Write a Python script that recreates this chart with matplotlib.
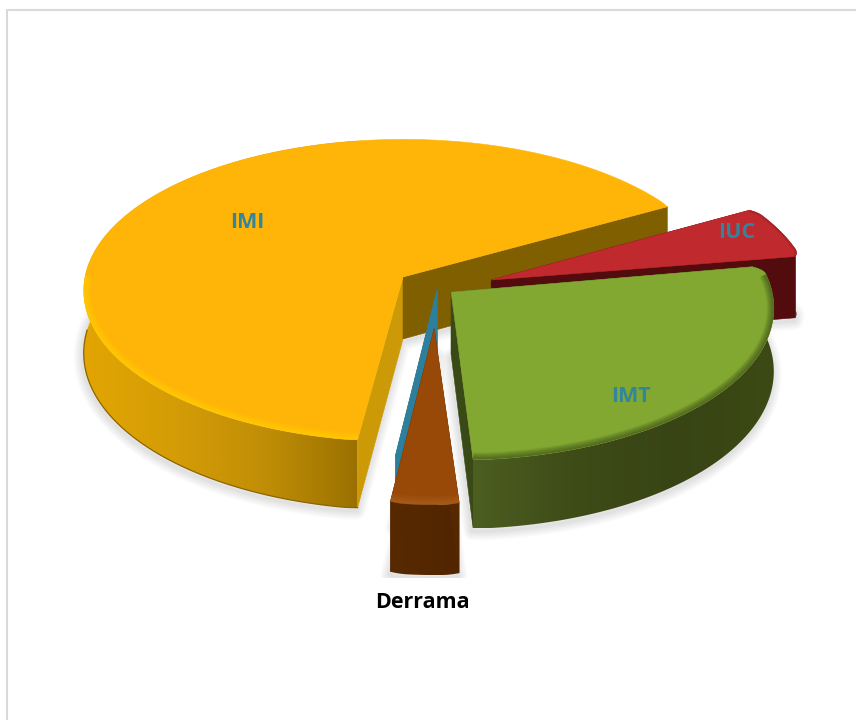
import numpy as np
import matplotlib
matplotlib.use("Agg")
import matplotlib.pyplot as plt
from matplotlib.colors import LinearSegmentedColormap
from matplotlib.patches import Polygon, Rectangle

names = ["IMI", "IUC", "IMT", "", "Derrama"]
values = [64.75, 5.6, 27.0, 1.9, 3.06]
start_angles = [262.5, 29.4, 10.0, -90.5, -86.5]
explode_x = [0.0, 0.277, 0.15, 0.106, 0.095]
explode_y = [0.0, -0.02, -0.10, -0.086, -0.335]
round_start = [0.004, 0.015, 0.03, 0.0, 0.008]
round_end = [0.004, 0.015, 0.004, 0.0, 0.008]
top_colors = ["#FFB508", "#C0292E", "#82A832", "#2E7F9B", "#984807"]
cut_start_colors = ["#CC9A06", "#520C0E", "#3A4A16", "#2E7F9B", "#562800"]
cut_end_colors = ["#7F5F00", "#520C0E", "#3A4A16", "#2E7F9B", "#562800"]
side_colors = [["#E2A502", "#D49C06", "#C08E06", "#9A7000"],
               ["#520C0E", "#520C0E"],
               ["#4C5E20", "#3E4C18", "#384414", "#3C4A15"],
               ["#2A7A96", "#2A7A96"],
               ["#582A02", "#512500"]]
label_x = [247, 737, 631]
label_y = [223, 232, 396]
label_color = "#31859C"

cx, cy = 403, 277
rx, ry = 318, 150
persp = 0.09
height = 62


def project(x, y, z=0.0):
    s = 1 / (1 + persp * y)
    return cx + rx * x * s, cy - ry * y * s + height * z * s


def arc_points(i, z=0.0):
    th = np.linspace(start_angles[i], start_angles[i] - values[i] * 3.6, 240)
    r = (1 - round_start[i] * np.clip(1 - (th[0] - th) / 3.0, 0, 1) ** 2
         - round_end[i] * np.clip(1 - (th - th[-1]) / 3.0, 0, 1) ** 2)
    x = r * np.cos(np.radians(th)) + explode_x[i]
    y = r * np.sin(np.radians(th)) + explode_y[i]
    return np.column_stack(project(x, y, z))


def gradient_face(ax, pts, colors, x0, x1, zorder):
    cmap = LinearSegmentedColormap.from_list("face", colors)
    y0, y1 = pts[:, 1].min(), pts[:, 1].max()
    im = ax.imshow(np.linspace(0, 1, 256)[None, :], cmap=cmap, aspect="auto",
                   extent=(x0, x1, y1, y0), zorder=zorder, interpolation="bilinear")
    clip = Polygon(pts, closed=True, transform=ax.transData, fc="none", ec="none")
    ax.add_patch(clip)
    im.set_clip_path(clip)


def rim_glow(ax, pts, clip, color, widths, alpha, zorder):
    for w in widths:
        line, = ax.plot(pts[:, 0], pts[:, 1], color=color, lw=w, alpha=alpha,
                        zorder=zorder, solid_capstyle="butt")
        line.set_clip_path(clip)


fig = plt.figure(figsize=(8.56, 7.2), dpi=100)
ax = fig.add_axes([0, 0, 1, 1])

# frame is cropped, only top and left are in the picture
ax.plot([7, 7, 856], [720, 10, 10], color="#D9D9D9", lw=1.5, zorder=1)

# soft shadow under each slice
shadow_clip = Rectangle((0, 0), 856, 578, transform=ax.transData, fc="none", ec="none")
ax.add_patch(shadow_clip)
for i in range(len(values)):
    base = arc_points(i, 1.0)
    apex = np.array(project(explode_x[i], explode_y[i], 1.0))
    outline = np.vstack([apex, base]) + [-1, 3]
    for w in [18, 15, 12, 9, 6, 3]:
        p = Polygon(outline, closed=True, fc="none", ec=(0, 0, 0, 0.018), lw=w * 0.72,
                    joinstyle="round", zorder=2)
        ax.add_patch(p)
        p.set_clip_path(shadow_clip)

z = 3
for i in range(len(values)):
    top = arc_points(i)
    bottom = arc_points(i, 1.0)
    apex_top = np.array(project(explode_x[i], explode_y[i]))
    apex_bot = np.array(project(explode_x[i], explode_y[i], 1.0))

    # shade only across the part of the rim that faces the viewer
    front = top[top[:, 1] > apex_top[1] + 5]
    if len(front) == 0:
        front = top
    gradient_face(ax, np.vstack([top, bottom[::-1]]), side_colors[i],
                  front[:, 0].min(), front[:, 0].max(), z)
    z += 1
    ax.add_patch(Polygon([apex_top, top[0], bottom[0], apex_bot], closed=True,
                         fc=cut_start_colors[i], ec=cut_start_colors[i], lw=0.4, zorder=z))
    z += 1
    ax.add_patch(Polygon([apex_top, top[-1], bottom[-1], apex_bot], closed=True,
                         fc=cut_end_colors[i], ec=cut_end_colors[i], lw=0.4, zorder=z))
    z += 1
    face = Polygon(np.vstack([apex_top, top]), closed=True, fc=top_colors[i],
                   ec=top_colors[i], lw=0.4, zorder=z)
    ax.add_patch(face)
    z += 1

    if names[i] == "IMI":
        rim_glow(ax, top[top[:, 1] > 275], face, "#FFD400", [10, 8, 6, 4, 2], 0.16, z)
        low = bottom[bottom[:, 1] > 330]
        ax.plot(low[:, 0], low[:, 1], color="#8A6400", lw=0.9, zorder=z)
    elif names[i] == "IMT":
        rim_glow(ax, top[8:], face, "#3A4A16", [10, 9, 8, 7, 6, 5, 4, 3, 2, 1], 0.09, z)
    elif names[i] == "IUC":
        rim_glow(ax, top, face, "#520C0E", [3, 1.5], 0.12, z)
    elif names[i] == "Derrama":
        rim_glow(ax, top, face, "#B8722F", [12, 9, 6, 3], 0.14, z)
    z += 1

for i in range(3):
    ax.text(label_x[i], label_y[i], names[i], color=label_color, fontsize=15.5,
            fontweight="bold", family="Open Sans", ha="center", va="center", zorder=z)
ax.text(422.5, 602, "Derrama", color="black", fontsize=15.5, fontweight="bold",
        family="Open Sans", ha="center", va="center", zorder=z)

ax.set_xlim(0, 856)
ax.set_ylim(720, 0)
ax.axis("off")
fig.savefig("out.png", dpi=100)
